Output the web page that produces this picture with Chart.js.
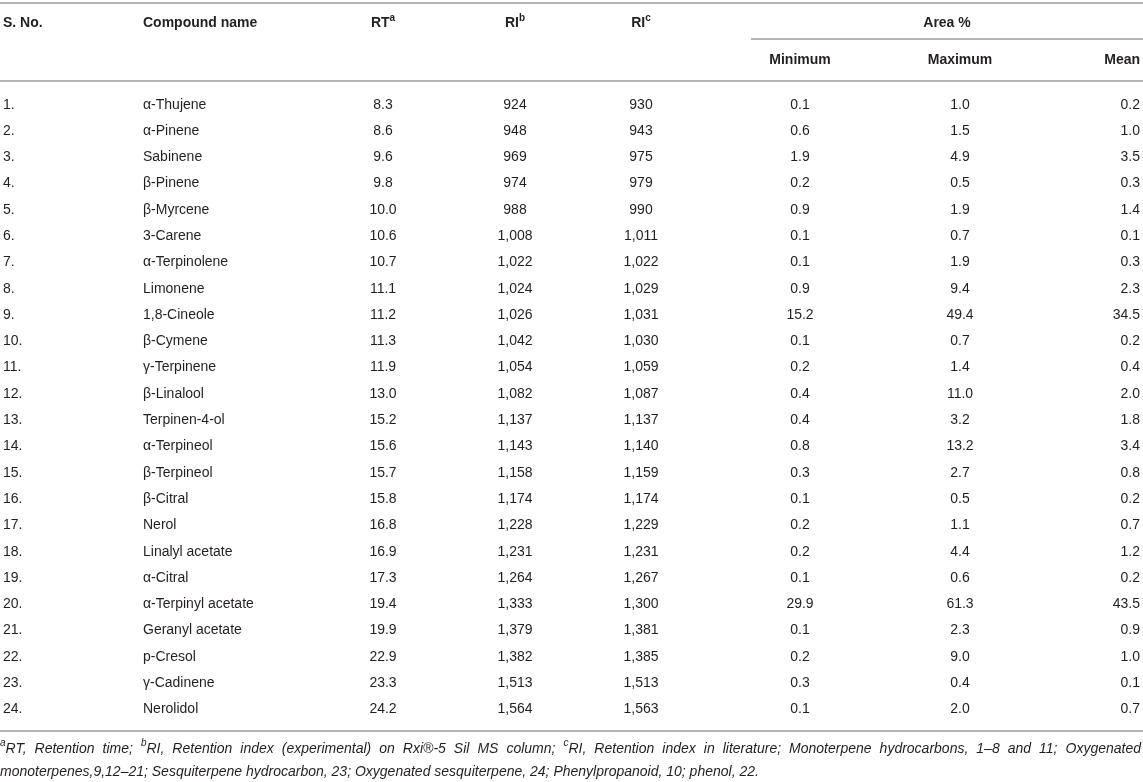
<!DOCTYPE html>
<html>
<head>
<meta charset="utf-8">
<script src="https://cdn.jsdelivr.net/npm/chart.js@4.4.0/dist/chart.umd.min.js"></script>
<style>
  html, body { margin: 0; padding: 0; background: #fff; }
  #wrap { width: 1143px; height: 782px; }
</style>
</head>
<body>
<div id="wrap"><canvas id="table_chart" width="1143" height="782"></canvas></div>
<script>
'use strict';

// table data
var sNo = ['1.', '2.', '3.', '4.', '5.', '6.', '7.', '8.', '9.', '10.', '11.', '12.',
    '13.', '14.', '15.', '16.', '17.', '18.', '19.', '20.', '21.', '22.', '23.', '24.'];
var compounds = ['α-Thujene', 'α-Pinene', 'Sabinene', 'β-Pinene', 'β-Myrcene', '3-Carene',
    'α-Terpinolene', 'Limonene', '1,8-Cineole', 'β-Cymene', 'γ-Terpinene', 'β-Linalool',
    'Terpinen-4-ol', 'α-Terpineol', 'β-Terpineol', 'β-Citral', 'Nerol', 'Linalyl acetate',
    'α-Citral', 'α-Terpinyl acetate', 'Geranyl acetate', 'p-Cresol', 'γ-Cadinene', 'Nerolidol'];
var rt = [8.3, 8.6, 9.6, 9.8, 10.0, 10.6, 10.7, 11.1, 11.2, 11.3, 11.9, 13.0,
    15.2, 15.6, 15.7, 15.8, 16.8, 16.9, 17.3, 19.4, 19.9, 22.9, 23.3, 24.2];
var riExp = [924, 948, 969, 974, 988, 1008, 1022, 1024, 1026, 1042, 1054, 1082,
    1137, 1143, 1158, 1174, 1228, 1231, 1264, 1333, 1379, 1382, 1513, 1564];
var riLit = [930, 943, 975, 979, 990, 1011, 1022, 1029, 1031, 1030, 1059, 1087,
    1137, 1140, 1159, 1174, 1229, 1231, 1267, 1300, 1381, 1385, 1513, 1563];
var areaMin = [0.1, 0.6, 1.9, 0.2, 0.9, 0.1, 0.1, 0.9, 15.2, 0.1, 0.2, 0.4,
    0.4, 0.8, 0.3, 0.1, 0.2, 0.2, 0.1, 29.9, 0.1, 0.2, 0.3, 0.1];
var areaMax = [1.0, 1.5, 4.9, 0.5, 1.9, 0.7, 1.9, 9.4, 49.4, 0.7, 1.4, 11.0,
    3.2, 13.2, 2.7, 0.5, 1.1, 4.4, 0.6, 61.3, 2.3, 9.0, 0.4, 2.0];
var areaMean = [0.2, 1.0, 3.5, 0.3, 1.4, 0.1, 0.3, 2.3, 34.5, 0.2, 0.4, 2.0,
    1.8, 3.4, 0.8, 0.2, 0.7, 1.2, 0.2, 43.5, 0.9, 1.0, 0.1, 0.7];

var footLine1 = [['a', true], ['RT, Retention time; ', false], ['b', true],
    ['RI, Retention index (experimental) on Rxi®-5 Sil MS column; ', false], ['c', true],
    ['RI, Retention index in literature; Monoterpene hydrocarbons, 1–8 and 11; Oxygenated', false]];
var footLine2 = [['monoterpenes,9,12–21; Sesquiterpene hydrocarbon, 23; Oxygenated sesquiterpene, 24; Phenylpropanoid, 10; phenol, 22.', false]];

function fmt1(v) { return v.toFixed(1); }
function fmtInt(v) { return v.toLocaleString('en-US'); }

// column layout: x anchor (px on the x scale), alignment
var columns = [
    { key: 'sno', values: sNo, x: 3, align: 'left', head: [['S. No.', false]] },
    { key: 'name', values: compounds, x: 143, align: 'left', head: [['Compound name', false]] },
    { key: 'rt', values: rt.map(fmt1), x: 383, align: 'center', head: [['RT', false], ['a', true]] },
    { key: 'rib', values: riExp.map(fmtInt), x: 515, align: 'center', head: [['RI', false], ['b', true]] },
    { key: 'ric', values: riLit.map(fmtInt), x: 641, align: 'center', head: [['RI', false], ['c', true]] },
    { key: 'min', values: areaMin.map(fmt1), x: 800, align: 'center', head: [['Minimum', false]], sub: true },
    { key: 'max', values: areaMax.map(fmt1), x: 960, align: 'center', head: [['Maximum', false]], sub: true },
    { key: 'mean', values: areaMean.map(fmt1), x: 1140, align: 'right', head: [['Mean', false]], sub: true }
];

// vertical positions in row units (row i sits at y = i)
var HEAD_Y = -3.10, SUBHEAD_Y = -1.70;
var TOP_RULE = -3.865, AREA_RULE = -2.49, HEAD_RULE = -0.89, BOTTOM_RULE = 23.82;
var FOOT1_Y = 24.50, FOOT2_Y = 25.38;

var TEXT = '#231f20';
var RULE = '#b4b4b4';
var FONT = '"Liberation Sans", Arial, Helvetica, sans-serif';

function segWidth(ctx, segs, size, style) {
    let w = 0;
    segs.forEach(s => {
        ctx.font = style + ' ' + (s[1] ? Math.round(size * 0.68) : size) + 'px ' + FONT;
        w += ctx.measureText(s[0]).width;
    });
    return w;
}

// draws runs of text with superscripts; extra is added to each space (justify)
function drawSegs(ctx, segs, x, y, size, style, align, extra) {
    extra = extra || 0;
    let w = segWidth(ctx, segs, size, style);
    if (align === 'center') x -= w / 2;
    else if (align === 'right') x -= w;
    ctx.textBaseline = 'middle';
    ctx.textAlign = 'left';
    segs.forEach(s => {
        let sz = s[1] ? Math.round(size * 0.68) : size;
        ctx.font = style + ' ' + sz + 'px ' + FONT;
        let yy = s[1] ? y - size * 0.38 : y;
        if (extra) {
            s[0].split(/( )/).forEach(part => {
                if (part === '') return;
                ctx.fillText(part, x, yy);
                x += ctx.measureText(part).width + (part === ' ' ? extra : 0);
            });
        } else {
            ctx.fillText(s[0], x, yy);
            x += ctx.measureText(s[0]).width;
        }
    });
}

var tablePlugin = {
    id: 'tableText',
    afterDatasetsDraw: function(chart) {
        let ctx = chart.ctx;
        let xs = chart.scales.x, ys = chart.scales.y;
        ctx.save();

        // rules
        ctx.strokeStyle = RULE;
        ctx.lineWidth = 2;
        [[TOP_RULE, 0, 1143], [HEAD_RULE, 0, 1143], [BOTTOM_RULE, 0, 1143], [AREA_RULE, 751, 1143]]
            .forEach(r => {
                let py = Math.round(ys.getPixelForValue(r[0]));
                ctx.beginPath();
                ctx.moveTo(xs.getPixelForValue(r[1]), py);
                ctx.lineTo(xs.getPixelForValue(r[2]), py);
                ctx.stroke();
            });

        ctx.fillStyle = TEXT;

        // headers
        columns.forEach(col => {
            let hy = ys.getPixelForValue(col.sub ? SUBHEAD_Y : HEAD_Y);
            drawSegs(ctx, col.head, xs.getPixelForValue(col.x), hy, 14, 'bold', col.align);
        });
        drawSegs(ctx, [['Area %', false]], xs.getPixelForValue(947), ys.getPixelForValue(HEAD_Y), 14, 'bold', 'center');

        // cells, placed at the dataset points
        chart.data.datasets.forEach((ds, di) => {
            let col = columns[di];
            chart.getDatasetMeta(di).data.forEach((pt, i) => {
                drawSegs(ctx, [[col.values[i], false]], pt.x, pt.y, 14, 'normal', col.align);
            });
        });

        // footnotes
        let w1 = segWidth(ctx, footLine1, 14, 'italic');
        let spaces = footLine1.reduce((n, s) => n + (s[0].match(/ /g) || []).length, 0);
        let extra = (1143 - 2 - w1) / spaces;
        drawSegs(ctx, footLine1, 0, ys.getPixelForValue(FOOT1_Y), 14, 'italic', 'left', extra);
        drawSegs(ctx, footLine2, 0, ys.getPixelForValue(FOOT2_Y), 14, 'italic', 'left');

        ctx.restore();
    }
};

let datasets = columns.map(col => ({
    label: col.key,
    data: col.values.map((v, i) => ({ x: col.x, y: i })),
    pointRadius: 0,
    showLine: false
}));

let config = {
    type: 'scatter',
    data: { datasets: datasets },
    options: {
        responsive: false,
        animation: false,
        events: [],
        layout: { padding: 0 },
        plugins: { legend: { display: false }, tooltip: { enabled: false } },
        scales: {
            x: { type: 'linear', min: 0, max: 1143, display: false },
            y: { type: 'linear', min: -3.98, max: 25.76, reverse: true, display: false }
        }
    },
    plugins: [tablePlugin]
};
new Chart(document.getElementById('table_chart').getContext('2d'), config);
</script>
</body>
</html>
